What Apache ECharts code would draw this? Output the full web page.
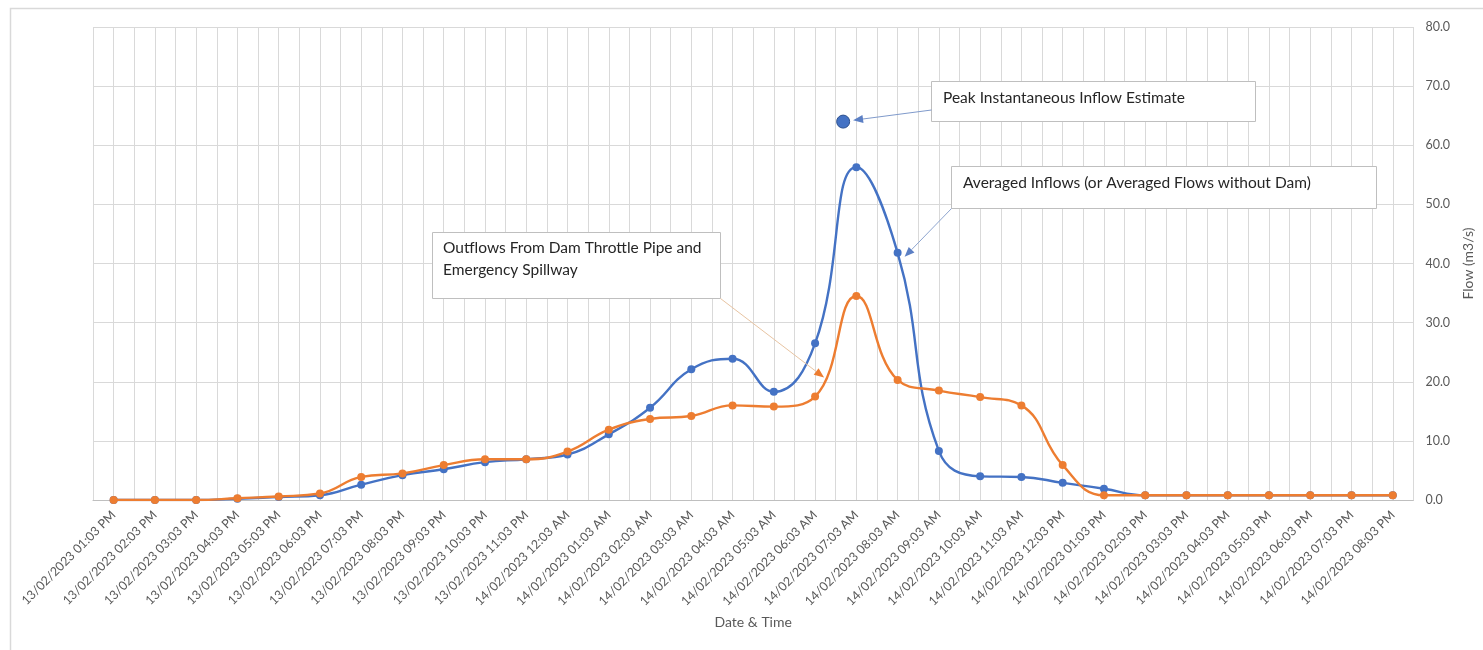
<!DOCTYPE html>
<html>
<head>
<meta charset="utf-8">
<script src="https://cdn.jsdelivr.net/npm/echarts@6/dist/echarts.min.js"></script>
<style>
html,body{margin:0;padding:0;background:#fff;}
#chart{width:1483px;height:650px;}
</style>
</head>
<body>
<div id="chart"></div>
<script>
const categories = [
  '13/02/2023 01:03 PM','13/02/2023 02:03 PM','13/02/2023 03:03 PM','13/02/2023 04:03 PM',
  '13/02/2023 05:03 PM','13/02/2023 06:03 PM','13/02/2023 07:03 PM','13/02/2023 08:03 PM',
  '13/02/2023 09:03 PM','13/02/2023 10:03 PM','13/02/2023 11:03 PM','14/02/2023 12:03 AM',
  '14/02/2023 01:03 AM','14/02/2023 02:03 AM','14/02/2023 03:03 AM','14/02/2023 04:03 AM',
  '14/02/2023 05:03 AM','14/02/2023 06:03 AM','14/02/2023 07:03 AM','14/02/2023 08:03 AM',
  '14/02/2023 09:03 AM','14/02/2023 10:03 AM','14/02/2023 11:03 AM','14/02/2023 12:03 PM',
  '14/02/2023 01:03 PM','14/02/2023 02:03 PM','14/02/2023 03:03 PM','14/02/2023 04:03 PM',
  '14/02/2023 05:03 PM','14/02/2023 06:03 PM','14/02/2023 07:03 PM','14/02/2023 08:03 PM'
];
const averagedInflows = [0.0,0.0,0.0,0.2,0.5,0.8,2.6,4.2,5.2,6.4,6.9,7.7,11.1,15.6,22.1,23.9,
  18.3,26.5,56.3,41.8,8.3,4.0,3.9,2.9,1.9,0.8,0.8,0.8,0.8,0.8,0.8,0.8];
const outflows = [0.0,0.0,0.0,0.3,0.6,1.1,3.9,4.5,5.9,6.9,6.9,8.2,11.9,13.7,14.2,16.0,
  15.8,17.5,34.5,20.3,18.5,17.4,16.0,5.9,0.8,0.8,0.8,0.8,0.8,0.8,0.8,0.8];
const peakEstimate = [[17.68, 64.0]];
const yTicks = {min: 0, max: 80, interval: 10};
const annotationTexts = {
  peak: 'Peak Instantaneous Inflow Estimate',
  inflow: 'Averaged Inflows (or Averaged Flows without Dam)',
  outflow: ['Outflows From Dam Throttle Pipe and', 'Emergency Spillway']
};

const FONT = 'Lato, "Open Sans", sans-serif';
const chart = echarts.init(document.getElementById('chart'));
const option = {
  animation: false,
  backgroundColor: '#ffffff',
  grid: {left: 93, right: 68, top: 27, bottom: 150, containLabel: false},
  xAxis: [{
    type: 'category', data: categories, boundaryGap: true,
    name: 'Date & Time', nameLocation: 'middle', nameGap: 115,
    nameTextStyle: {color: '#595959', fontFamily: FONT, fontSize: 14},
    axisLine: {show: true, lineStyle: {color: '#bfbfbf', width: 1}},
    axisTick: {show: false},
    axisLabel: {interval: 0, rotate: 45, color: '#595959', fontFamily: FONT, fontSize: 12.5, margin: 13},
    splitLine: {show: false}
  }, {
    type: 'value', min: -0.5, max: 31.5, interval: 0.5, show: true,
    position: 'bottom',
    axisLine: {show: false}, axisTick: {show: false}, axisLabel: {show: false},
    splitLine: {show: true, lineStyle: {color: '#d9d9d9', width: 1}}
  }],
  yAxis: [{
    type: 'value', position: 'right', min: yTicks.min, max: yTicks.max, interval: yTicks.interval,
    name: 'Flow (m3/s)', nameLocation: 'middle', nameGap: 46, nameRotate: 90,
    nameTextStyle: {color: '#595959', fontFamily: FONT, fontSize: 14},
    axisLine: {show: false}, axisTick: {show: false},
    axisLabel: {color: '#595959', fontFamily: FONT, fontSize: 12.5, margin: 12,
      formatter: v => v.toFixed(1)},
    splitLine: {show: true, lineStyle: {color: '#d9d9d9', width: 1}}
  }],
  series: [{
    name: 'Averaged Inflows', type: 'line', xAxisIndex: 0, yAxisIndex: 0,
    data: averagedInflows, smooth: 0.45, symbol: 'circle', symbolSize: 8,
    lineStyle: {color: '#4472C4', width: 2.4},
    itemStyle: {color: '#4472C4'}, z: 3
  }, {
    name: 'Outflows', type: 'line', xAxisIndex: 0, yAxisIndex: 0,
    data: outflows, smooth: 0.45, symbol: 'circle', symbolSize: 8,
    lineStyle: {color: '#ED7D31', width: 2.4},
    itemStyle: {color: '#ED7D31'}, z: 4
  }, {
    name: 'Peak Estimate', type: 'scatter', xAxisIndex: 1, yAxisIndex: 0,
    data: peakEstimate, symbol: 'circle', symbolSize: 13,
    itemStyle: {color: '#4472C4', borderColor: '#2F528F', borderWidth: 1, opacity: 1}, z: 5
  }]
};
chart.setOption(option);

function px(x, y) { return chart.convertToPixel({xAxisIndex: 1, yAxisIndex: 0}, [x, y]); }
function arrow(start, tip, lineColor, headColor) {
  const dx = tip[0] - start[0], dy = tip[1] - start[1];
  const len = Math.sqrt(dx*dx + dy*dy), ux = dx/len, uy = dy/len;
  const hl = 10, hw = 4;
  const bx = tip[0] - ux*hl, by = tip[1] - uy*hl;
  return [{
    type: 'line', shape: {x1: start[0], y1: start[1], x2: bx, y2: by},
    style: {stroke: lineColor, lineWidth: 1}, z: 10
  }, {
    type: 'polygon', shape: {points: [tip, [bx - uy*hw, by + ux*hw], [bx + uy*hw, by - ux*hw]]},
    style: {fill: headColor}, z: 10
  }];
}
function box(x, y, w, h) {
  return {type: 'rect', shape: {x: x, y: y, width: w, height: h},
    style: {fill: '#ffffff', stroke: '#bfbfbf', lineWidth: 1}, z: 9};
}
function label(x, y, t) {
  return {type: 'text', x: x, y: y, style: {text: t, fill: '#262626', font: '15.5px ' + FONT,
    textVerticalAlign: 'middle'}, z: 11};
}

const pPeak = px(peakEstimate[0][0], peakEstimate[0][1]);
const pIn = px(19, averagedInflows[19]);
const pOut = px(17, outflows[17]);
const a1Start = [931.5, 110];
const d1x = a1Start[0] - pPeak[0], d1y = a1Start[1] - pPeak[1];
const d1 = Math.sqrt(d1x*d1x + d1y*d1y);
const a1Tip = [pPeak[0] + d1x/d1*10, pPeak[1] + d1y/d1*10];

const graphics = [
  {type: 'rect', shape: {x: 10.5, y: 8.5, width: 1600, height: 800},
   style: {fill: 'none', stroke: '#d9d9d9', lineWidth: 1.5}, z: 0, silent: true},
  box(931.5, 81.5, 324, 40), label(943, 98, annotationTexts.peak),
  box(951.5, 166.5, 425, 42), label(963, 183, annotationTexts.inflow),
  box(432.5, 232.5, 288, 66), label(443, 248, annotationTexts.outflow[0]),
  label(443, 270, annotationTexts.outflow[1])
]
.concat(arrow(a1Start, a1Tip, '#7f9acb', '#5b7fc4'))
.concat(arrow([951.5, 208.5], [pIn[0] + 7, pIn[1] + 4], '#8ea5cf', '#5b7fc4'))
.concat(arrow([720.5, 298.5], [pOut[0] + 9, pOut[1] - 19], '#e8c4a2', '#ED7D31'));

chart.setOption({graphic: graphics});
</script>
</body>
</html>
